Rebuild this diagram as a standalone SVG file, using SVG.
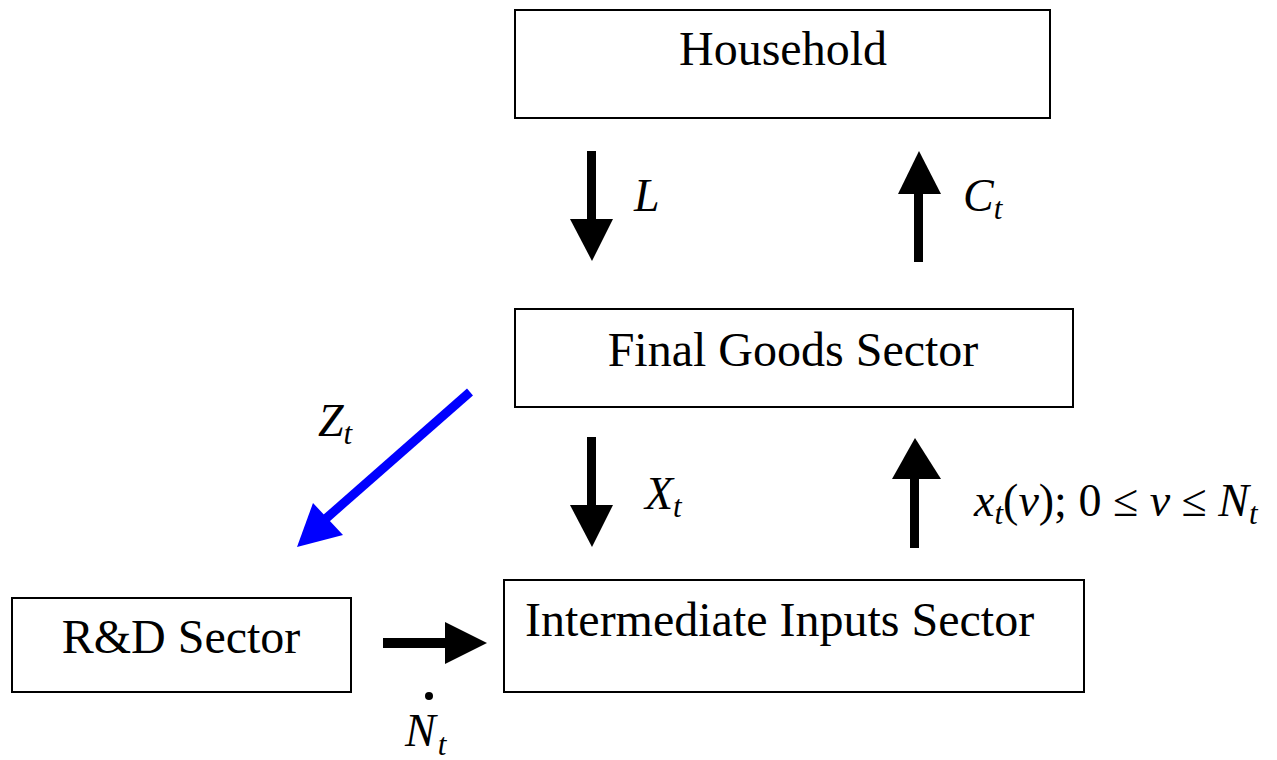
<svg xmlns="http://www.w3.org/2000/svg" width="1277" height="760" viewBox="0 0 1277 760">
<style>
.box{fill:#fff;stroke:#000;stroke-width:2}
.t{font-family:"Liberation Serif","Times New Roman",serif;font-size:48px;fill:#000}
.m{font-family:"Liberation Serif","Times New Roman",serif;font-size:46px;font-style:italic;fill:#000}
.s{font-size:31px}
.n{font-style:normal}
</style>
<rect width="1277" height="760" fill="#fff"/>
<g id="household"><rect class="box" x="515" y="10" width="535" height="108"/><text class="t" x="783" y="65" text-anchor="middle">Household</text></g>
<g id="final"><rect class="box" x="515" y="309" width="558" height="98"/><text class="t" x="793" y="366" text-anchor="middle">Final Goods Sector</text></g>
<g id="intermediate"><rect class="box" x="504" y="580" width="580" height="112"/><text class="t" x="525" y="636">Intermediate Inputs Sector</text></g>
<g id="rd"><rect class="box" x="12" y="598" width="339" height="94"/><text class="t" x="181" y="653" text-anchor="middle">R&amp;D Sector</text></g>
<g id="connectors">
<rect x="587" y="151" width="9" height="70"/><polygon points="570,219 613,219 592,261"/>
<rect x="914" y="192" width="9" height="70"/><polygon points="898,194 941,194 919,151"/>
<rect x="587" y="437" width="9" height="70"/><polygon points="570,505 613,505 592,547"/>
<rect x="910" y="477" width="9" height="71"/><polygon points="892,479 941,479 915,438"/>
<rect x="383" y="638" width="64" height="10"/><polygon points="445,622 445,664 487,643"/>
<line x1="470" y1="392" x2="322" y2="522" stroke="#0000ff" stroke-width="9"/>
<polygon points="297,547 313,503 343,535" fill="#0000ff"/>
</g>
<g id="labels">
<text class="m" x="634" y="211">L</text>
<text class="m" x="963" y="211">C<tspan class="s" dy="8">t</tspan></text>
<text class="m" x="318" y="436">Z<tspan class="s" dy="8">t</tspan></text>
<text class="m" x="645" y="509">X<tspan class="s" dy="8">t</tspan></text>
<text class="m" x="974" y="516">x<tspan class="s" dy="8">t</tspan><tspan class="n" dy="-8">(</tspan>v<tspan class="n">); 0 ≤ </tspan>v<tspan class="n"> ≤ </tspan>N<tspan class="s" dy="8">t</tspan></text>
<circle cx="429" cy="696" r="4"/>
<text class="m" x="405" y="746">N<tspan class="s" dx="2" dy="9">t</tspan></text>
</g>
</svg>
